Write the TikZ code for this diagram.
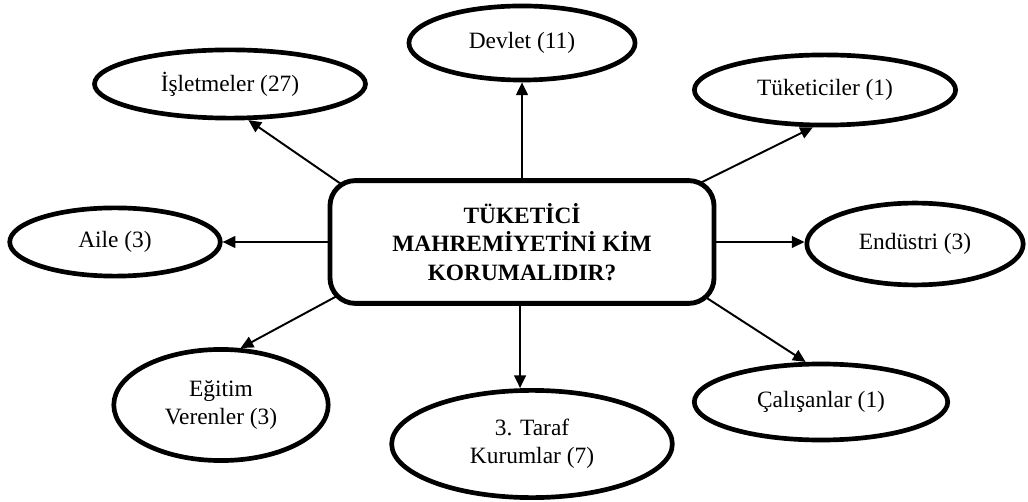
\documentclass[tikz,border=0pt]{standalone}
\usepackage{fontspec}
\setmainfont{Liberation Serif}
\usepackage{tikz}
\usetikzlibrary{arrows.meta,shapes.geometric,backgrounds}

\begin{document}
\begin{tikzpicture}[x=0.513pt,y=-0.513pt,
  bubble/.style={ellipse,draw,line width=2.4pt,inner sep=0pt,align=center,font=\fontsize{12}{14.5}\selectfont},
  link/.style={line width=1pt,-{Triangle[length=6.5pt,width=6pt]}}]
\useasboundingbox (0,0) rectangle (1028,502);
\node[draw,fill=white,line width=2.5pt,rounded corners=13pt,minimum width=197pt,minimum height=63pt,align=center,font=\bfseries\fontsize{12}{14.5}\selectfont] (box) at (522,242) {TÜKETİCİ\\MAHREMİYETİNİ KİM\\KORUMALIDIR?};
\node[bubble,minimum width=116pt,minimum height=38pt] (dev) at (522,43) {Devlet (11)};
\node[bubble,minimum width=139pt,minimum height=35pt] (isl) at (230,84) {İşletmeler (27)};
\node[bubble,minimum width=134pt,minimum height=36pt] (tuk) at (825,90) {Tüketiciler (1)};
\node[bubble,minimum width=108pt,minimum height=35pt] (aile) at (115,242) {Aile (3)};
\node[bubble,minimum width=111pt,minimum height=42pt] (end) at (915,244) {Endüstri (3)};
\node[bubble,minimum width=130pt,minimum height=39pt] (cal) at (821,402) {Çalışanlar (1)};
\node[bubble,minimum width=110pt,minimum height=57pt] (egt) at (221,405) {Eğitim\\Verenler (3)};
\node[bubble,minimum width=144pt,minimum height=55pt] (tar) at (532,444) {3. Taraf\\Kurumlar (7)};
% straight ones
\draw[link] (box.north -| dev.south) -- (dev.south);
\draw[link] (box.west) -- (aile.east);
\draw[link] (box.east) -- (box.east -| end.west);
\draw[link] ([xshift=-1pt]box.south) -- ([xshift=-1pt]box.south |- tar.north);
% slanted ones, started under the box
\begin{scope}[on background layer]
\draw[link] ([shift={(50,31)}]box.north west) -- (isl.-63);
\draw[link] ([shift={(-49,21)}]box.north east) -- (tuk.-108);
\draw[link] ([shift={(-47,-32)}]box.south east) -- (cal.111);
\draw[link] ([shift={(45,-29)}]box.south west) -- (egt.71);
\end{scope}
\end{tikzpicture}
\end{document}
